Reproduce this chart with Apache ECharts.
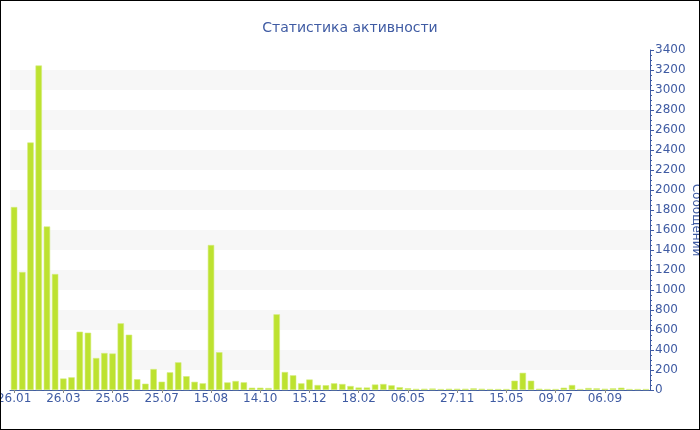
<!DOCTYPE html>
<html>
<head>
<meta charset="utf-8">
<script src="https://cdn.jsdelivr.net/npm/echarts@6/dist/echarts.min.js"></script>
<style>
html,body{margin:0;padding:0;background:#fff;}
#wrap{position:relative;width:700px;height:430px;}
#chart{width:700px;height:430px;}
#frame{position:absolute;left:0;top:0;width:700px;height:430px;box-sizing:border-box;border:1px solid #000;pointer-events:none;}
</style>
</head>
<body>
<div id="wrap"><div id="chart"></div><div id="frame"></div></div>
<script>
const titleText = 'Статистика активности';
const axisName = 'Сообщений';
const tickLabels = ['26.01','26.03','25.05','25.07','15.08','14.10','15.12','18.02','06.05','27.11','15.05','09.07','06.09'];
const labelEvery = 6;
const messages = [
  1830, 1180, 2475, 3245, 1635, 1160, 115, 127, 583, 573,
  320, 370, 365, 667, 553, 108, 63, 210, 83, 177,
  277, 138, 82, 67, 1450, 378, 76, 90, 77, 23,
  23, 20, 757, 180, 147, 67, 105, 50, 48, 67,
  60, 40, 25, 25, 55, 60, 47, 28, 18, 12,
  13, 15, 10, 13, 13, 13, 17, 13, 10, 10,
  10, 93, 172, 93, 13, 10, 10, 23, 50, 10,
  20, 17, 13, 17, 23, 10, 10, 10
];
const categories = messages.map((v, i) => (i % labelEvery === 0) ? tickLabels[i / labelEvery] : ('#' + i));

const blue = '#3f5ba3';
const chart = echarts.init(document.getElementById('chart'), null, {renderer: 'canvas'});
chart.setOption({
  animation: false,
  backgroundColor: '#fff',
  title: {
    text: titleText,
    left: 'center',
    top: 16,
    textStyle: {color: blue, fontSize: 14, fontWeight: 'normal', fontFamily: 'DejaVu Sans'}
  },
  grid: {left: 10, right: 50, top: 50, bottom: 40, containLabel: false, outerBoundsMode: 'none'},
  xAxis: {
    type: 'category',
    data: categories,
    boundaryGap: true,
    axisLine: {lineStyle: {color: blue, width: 1}},
    axisTick: {show: true, interval: labelEvery - 1, alignWithLabel: true, length: 3, lineStyle: {color: '#888'}},
    axisLabel: {
      interval: labelEvery - 1,
      margin: 3,
      color: blue,
      fontSize: 12,
      fontFamily: 'DejaVu Sans',
      formatter: (v, i) => (i % labelEvery === 0) ? tickLabels[i / labelEvery] : ''
    },
    splitLine: {show: false}
  },
  yAxis: {
    type: 'value',
    position: 'right',
    min: 0,
    max: 3400,
    interval: 200,
    name: axisName,
    nameLocation: 'middle',
    nameRotate: -90,
    nameGap: 46,
    nameMoveOverlap: false,
    nameTextStyle: {color: blue, fontSize: 12, fontFamily: 'DejaVu Sans', align: 'center', verticalAlign: 'middle'},
    axisLine: {show: true, lineStyle: {color: blue, width: 1}},
    axisTick: {show: true, length: 4, lineStyle: {color: blue}},
    minorTick: {show: true, splitNumber: 4, length: 2, lineStyle: {color: blue}},
    axisLabel: {margin: 5, color: blue, fontSize: 12, fontFamily: 'DejaVu Sans', formatter: v => String(v)},
    splitLine: {show: false},
    splitArea: {show: true, areaStyle: {color: ['rgba(255,255,255,0)', '#f7f7f7']}}
  },
  series: [{
    type: 'bar',
    data: messages,
    barCategoryGap: '22%',
    itemStyle: {color: '#bde230', borderColor: '#d3ed7a', borderWidth: 0.6}
  }]
});
</script>
</body>
</html>
